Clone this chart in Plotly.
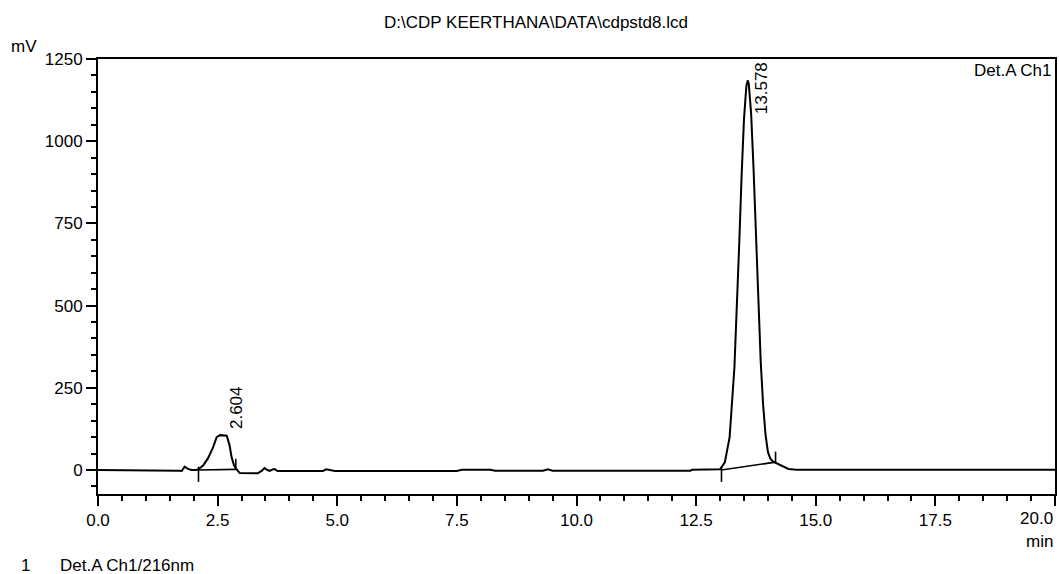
import plotly.graph_objects as go

# Chromatogram trace (min, mV)
time_min = [0.0, 1.6, 1.7, 1.75, 1.81, 1.87, 1.95, 2.05, 2.1, 2.2, 2.3, 2.4, 2.48, 2.55, 2.604, 2.69, 2.75, 2.79, 2.84, 2.88,
            2.96, 3.1, 3.34, 3.42, 3.48, 3.54, 3.59, 3.65, 3.69, 3.75, 3.8, 4.6, 4.7, 4.77, 4.85, 4.95, 7.5, 7.6, 8.2, 8.3,
            9.3, 9.4, 9.5, 12.38, 12.42, 12.9, 13.0, 13.1, 13.2, 13.3, 13.35, 13.4, 13.45, 13.5, 13.55, 13.578, 13.6, 13.65,
            13.7, 13.75, 13.8, 13.85, 13.9, 13.95, 14.0, 14.05, 14.1, 14.16, 14.25, 14.35, 14.43, 14.6, 20.0]
signal_mv = [0, 0, -2, -3, 10, 4, 0, 0, 2, 14, 36, 67, 100, 106, 106, 104, 75, 40, 15, 5,
             -9, -10, -10, -3, 6, 0, -3, 2, 3, -3, -3, -3, -3, 2, -1, -3, -3, 1, 1, -2,
             -2, 2, -2, -2, 1, 1, 2, 23, 100, 311, 482, 685, 893, 1067, 1168, 1185, 1175, 1083,
             916, 711, 505, 329, 198, 108, 55, 35, 26, 22, 14, 8, 3, 1, 1]

# Peaks: retention time, label position, integration start/end and baseline levels
peak_rt = [2.604, 13.578]
peak_labels = ["2.604", "13.578"]
peak_label_y = [190, 1160]
peak_start = [2.1, 13.03]
peak_end = [2.88, 14.16]
base_start = [0, 0]
base_end = [2, 24]

FAMILY = "Liberation Sans, Arial"
font = dict(family=FAMILY, size=17, color="black")

fig = go.Figure()
fig.add_trace(go.Scatter(x=time_min, y=signal_mv, mode="lines",
                         line=dict(color="black", width=2), hoverinfo="skip", showlegend=False))

for i in range(len(peak_rt)):
    # integration baseline
    fig.add_trace(go.Scatter(x=[peak_start[i], peak_end[i]], y=[base_start[i], base_end[i]], mode="lines",
                             line=dict(color="black", width=1.6), showlegend=False, hoverinfo="skip"))
    # start marker (down tick)
    fig.add_trace(go.Scatter(x=[peak_start[i], peak_start[i]], y=[base_start[i] + 10, base_start[i] - 36], mode="lines",
                             line=dict(color="black", width=1.6), showlegend=False, hoverinfo="skip"))
    # end marker (arrow down)
    fig.add_trace(go.Scatter(x=[peak_end[i], peak_end[i]], y=[base_end[i] + 32, base_end[i]], mode="lines",
                             line=dict(color="black", width=1.6), showlegend=False, hoverinfo="skip"))
    fig.add_annotation(x=peak_rt[i] + 0.29, y=peak_label_y[i], text=peak_labels[i], textangle=-90,
                       showarrow=False, font=font, xanchor="center", yanchor="middle")

fig.update_layout(
    width=1059, height=574,
    margin=dict(l=98, r=2, t=59, b=80),
    paper_bgcolor="white", plot_bgcolor="white",
    font=font,
    title=dict(text="D:\\CDP KEERTHANA\\DATA\\cdpstd8.lcd", x=536 / 1059, xanchor="center",
               y=1 - 22 / 574, yanchor="middle", font=font),
    xaxis=dict(range=[0, 20], tickvals=[0, 2.5, 5, 7.5, 10, 12.5, 15, 17.5, 20],
               ticktext=["0.0", "2.5", "5.0", "7.5", "10.0", "12.5", "15.0", "17.5", ""],
               ticks="outside", ticklen=10, tickwidth=2, tickcolor="black",
               minor=dict(dtick=0.5, ticks="outside", ticklen=5, tickwidth=2, tickcolor="black"),
               showline=True, linecolor="black", linewidth=2, mirror=True,
               showgrid=False, zeroline=False, tickfont=font),
    yaxis=dict(range=[-73, 1250], tickvals=[0, 250, 500, 750, 1000, 1250],
               ticks="outside", ticklen=10, tickwidth=2, tickcolor="black",
               minor=dict(dtick=50, ticks="outside", ticklen=5, tickwidth=2, tickcolor="black"),
               showline=True, linecolor="black", linewidth=2, mirror=True,
               showgrid=False, zeroline=False, tickfont=font),
)

fig.add_annotation(xref="paper", yref="paper", x=(24 - 98) / 959, y=(494 - 47) / 435, text="mV",
                   showarrow=False, font=font, xanchor="center", yanchor="middle")
fig.add_annotation(xref="paper", yref="paper", x=1.0, y=(494 - 518) / 435, text="20.0",
                   showarrow=False, font=font, xanchor="right", yanchor="middle")
fig.add_annotation(xref="paper", yref="paper", x=1.0, y=(494 - 541) / 435, text="min",
                   showarrow=False, font=font, xanchor="right", yanchor="middle")
fig.add_annotation(xref="paper", yref="paper", x=(1056 - 98) / 959, y=(494 - 70) / 435, text="Det.A Ch1",
                   showarrow=False, font=font, xanchor="right", yanchor="middle")
fig.add_annotation(xref="paper", yref="paper", x=(25 - 98) / 959, y=(494 - 565) / 435, text="1",
                   showarrow=False, font=font, xanchor="center", yanchor="middle")
fig.add_annotation(xref="paper", yref="paper", x=(58 - 98) / 959, y=(494 - 565) / 435, text="Det.A Ch1/216nm",
                   showarrow=False, font=font, xanchor="left", yanchor="middle")

fig.write_html("out.html")
